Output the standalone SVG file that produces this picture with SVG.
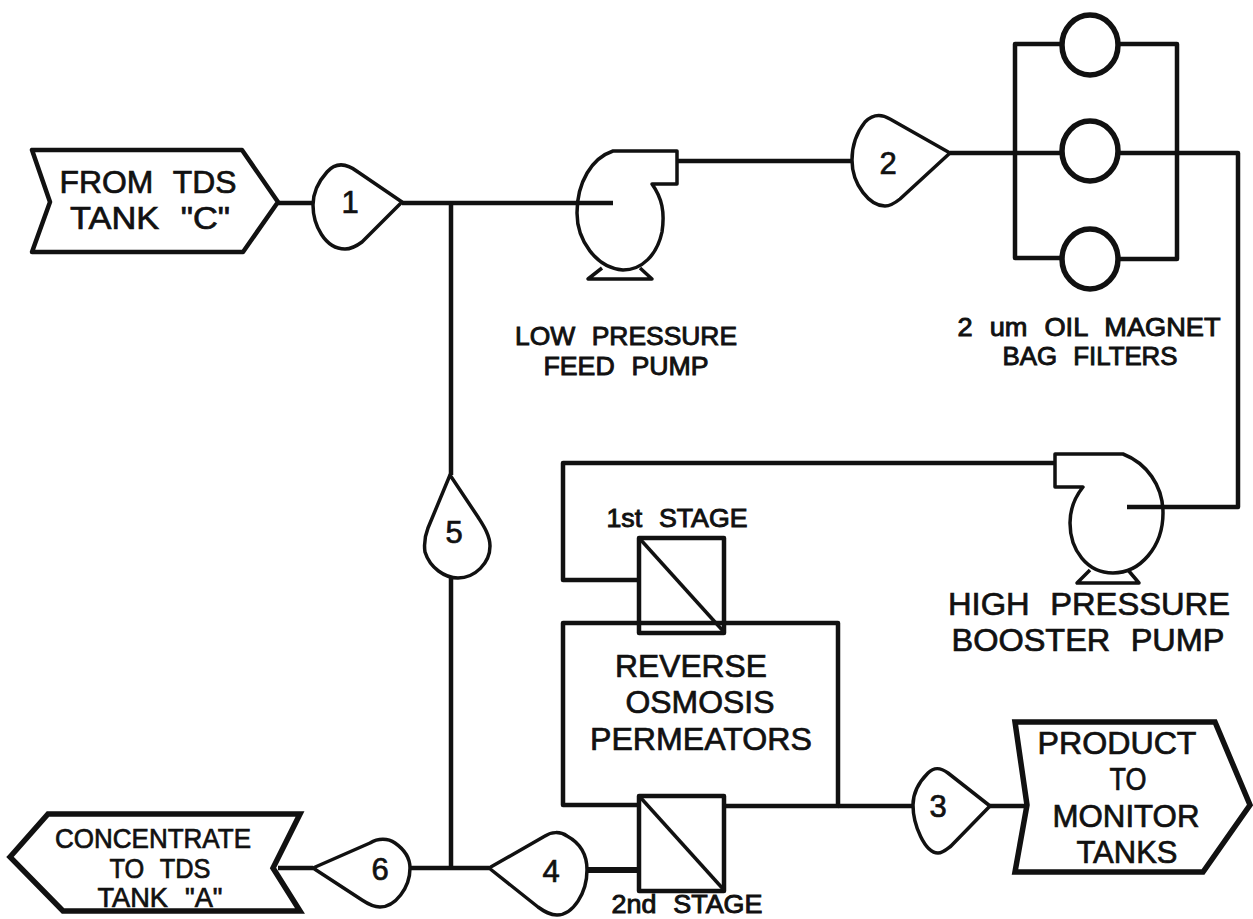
<svg xmlns="http://www.w3.org/2000/svg" width="1253" height="919" viewBox="0 0 1253 919">
<style>
.l{fill:none;stroke:#111;stroke-width:4.5;stroke-linejoin:round;stroke-linecap:butt}
.h{fill:none;stroke:#111;stroke-width:5.5;stroke-linejoin:miter;stroke-linecap:butt}
.t{fill:none;stroke:#111;stroke-width:3.5;stroke-linejoin:round}
text{font-family:"Liberation Sans",Arial,sans-serif;fill:#111;text-anchor:middle;stroke:#111;stroke-width:.7;word-spacing:.35em}
.a{font-size:31px}.b{font-size:27px}.c{font-size:25px;stroke-width:.9}
</style>
<rect width="1253" height="919" fill="#fff"/>
<g id="connectors" class="l">
<path d="M278 203H313M402 203H613"/>
<path d="M451 203V475M451 578V868"/>
<path d="M677 161H852M950 153H1062M1118 153H1238V507H1127"/>
<path d="M1062 258H1015V44H1062M1118 44H1177V259H1118"/>
<path d="M1056 463H563V580H638"/>
<path d="M638 805H563V623H838V806H725"/>
<path d="M838 806H913M990 806H1027"/>
<path d="M278 868H313M410 868H489"/>
<path d="M587 870H638" stroke-width="6"/>
</g>
<g id="tag-1"><path class="t" d="M402 202L358 172C345 162 335 163 327 172C318 182 313 192 313 205C313 225 325 249 345 249C352 249 358 245 362 242Z"/><text class="a" x="350" y="213">1</text></g>
<g id="tag-2"><path class="t" d="M950 153L890 119C880 113 872 115 865 122C857 132 852 145 852 160C852 185 870 206 885 206C890 206 895 203 900 199Z"/><text class="a" x="888" y="174">2</text></g>
<g id="tag-3"><path class="t" d="M990 806L948 773C940 767 934 767 928 773C919 782 913 792 913 805C913 825 925 853 938 853C943 853 947 849 951 846Z"/><text class="a" x="938" y="817">3</text></g>
<g id="tag-4"><path class="t" d="M489 868L545 836C551 832 560 831 567 836C580 843 587 855 587 870C587 893 573 915 557 915C550 915 545 912 538 907Z"/><text class="a" x="551" y="882">4</text></g>
<g id="tag-5"><path class="t" d="M450 475L428 528C424 538 424 545 425 552C430 568 445 578 458 578C475 578 490 563 490 546C490 535 483 525 478 517Z"/><text class="a" x="454" y="543">5</text></g>
<g id="tag-6"><path class="t" d="M313 868L370 843C378 838 388 838 395 843C405 850 410 858 410 868C410 888 395 907 380 907C373 907 368 904 362 900Z"/><text class="a" x="380" y="880">6</text></g>
<g id="source-tds-c"><path class="l" d="M32 150H242L278 202L243 252H32L50 202Z"/><text class="a" x="148" y="193" textLength="177" lengthAdjust="spacingAndGlyphs">FROM TDS</text><text class="a" x="150" y="229" textLength="160" lengthAdjust="spacingAndGlyphs">TANK "C"</text></g>
<g id="low-pressure-pump"><path class="t" d="M613 151H677V184H652C662 198 665 212 662 232C657 255 642 270 623 270C596 268 577 240 577 213C577 182 592 158 613 151Z"/><path class="t" d="M602 268L588 279H652L640 268"/><text class="c" x="626" y="345" textLength="222" lengthAdjust="spacingAndGlyphs">LOW PRESSURE</text><text class="c" x="626" y="375" textLength="165" lengthAdjust="spacingAndGlyphs">FEED PUMP</text></g>
<g id="filter-top"><ellipse class="h" cx="1090" cy="45" rx="28" ry="30"/></g>
<g id="filter-mid"><ellipse class="h" cx="1090" cy="151" rx="28" ry="30"/></g>
<g id="filter-bottom"><ellipse class="h" cx="1090" cy="259" rx="28" ry="30"/></g>
<g id="filter-label"><text class="c" x="1089" y="336" textLength="263" lengthAdjust="spacingAndGlyphs">2 um OIL MAGNET</text><text class="c" x="1090" y="365" textLength="175" lengthAdjust="spacingAndGlyphs">BAG FILTERS</text></g>
<g id="high-pressure-pump"><path class="t" d="M1055 454H1123C1146 463 1163 485 1163 513C1163 547 1140 573 1113 573C1087 573 1070 550 1070 523C1070 508 1075 497 1083 487H1055Z"/><path class="t" d="M1090 570L1077 583H1139L1128 570"/><text class="a" x="1089" y="615" textLength="282" lengthAdjust="spacingAndGlyphs">HIGH PRESSURE</text><text class="a" x="1088" y="651" textLength="273" lengthAdjust="spacingAndGlyphs">BOOSTER PUMP</text></g>
<g id="stage-1"><rect class="l" x="639" y="538" width="85" height="95"/><path class="t" d="M640 539L724 632"/><text class="c" x="677" y="527" textLength="141" lengthAdjust="spacingAndGlyphs">1st STAGE</text></g>
<g id="stage-2"><rect class="l" x="639" y="796" width="85" height="95"/><path class="t" d="M640 797L724 890"/><text class="c" x="687" y="913" textLength="151" lengthAdjust="spacingAndGlyphs">2nd STAGE</text></g>
<g id="permeators"><text class="a" x="691" y="677" textLength="152" lengthAdjust="spacingAndGlyphs">REVERSE</text><text class="a" x="700" y="713" textLength="149" lengthAdjust="spacingAndGlyphs">OSMOSIS</text><text class="a" x="701" y="750" textLength="222" lengthAdjust="spacingAndGlyphs">PERMEATORS</text></g>
<g id="product"><path class="h" d="M1015 722H1215L1250 805L1203 872H1015L1027 805Z"/><text class="a" x="1117" y="754" textLength="159" lengthAdjust="spacingAndGlyphs">PRODUCT</text><text class="a" x="1128" y="790" textLength="37" lengthAdjust="spacingAndGlyphs">TO</text><text class="a" x="1126" y="827" textLength="147" lengthAdjust="spacingAndGlyphs">MONITOR</text><text class="a" x="1127" y="863" textLength="101" lengthAdjust="spacingAndGlyphs">TANKS</text></g>
<g id="concentrate"><path class="h" d="M10 857L48 814H300L273 868L300 911H63Z"/><text class="b" x="153" y="848" textLength="196" lengthAdjust="spacingAndGlyphs">CONCENTRATE</text><text class="b" x="160" y="878" textLength="101" lengthAdjust="spacingAndGlyphs">TO TDS</text><text class="b" x="160" y="907" textLength="125" lengthAdjust="spacingAndGlyphs">TANK "A"</text></g>
</svg>
